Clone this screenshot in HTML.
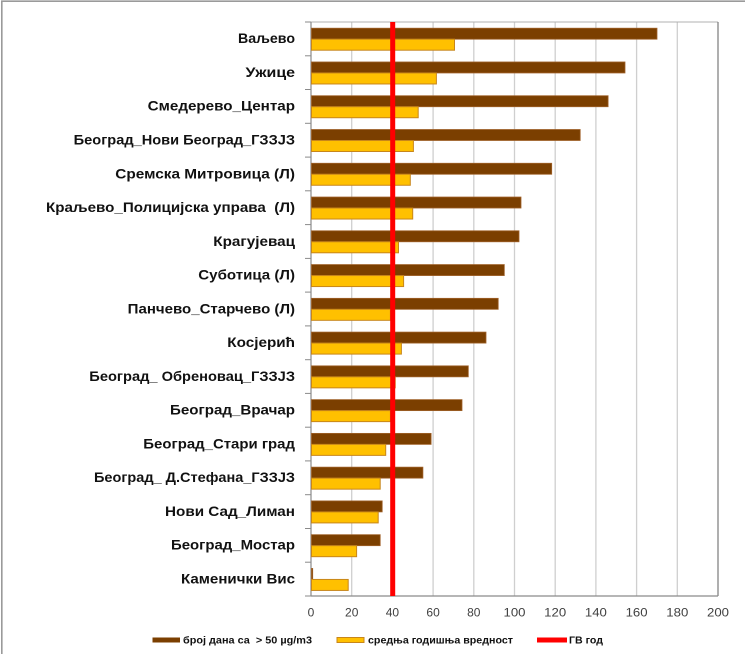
<!DOCTYPE html>
<html>
<head>
<meta charset="utf-8">
<style>
html,body{margin:0;padding:0;background:#fff;}
svg{display:block;}
</style>
</head>
<body>
<svg width="745" height="654" viewBox="0 0 745 654" xmlns="http://www.w3.org/2000/svg">
<rect x="0" y="0" width="745" height="654" fill="#fff"/>
<!-- outer frame -->
<path d="M1.8 660 L1.8 1.2 L760 1.2" fill="none" stroke="#9a9a9a" stroke-width="1.6"/>

<!-- gridlines -->
<g stroke="#cfcfcf" stroke-width="1.3">
<line x1="351.7" y1="22" x2="351.7" y2="596"/>
<line x1="392.4" y1="22" x2="392.4" y2="596"/>
<line x1="433.1" y1="22" x2="433.1" y2="596"/>
<line x1="473.8" y1="22" x2="473.8" y2="596"/>
<line x1="514.5" y1="22" x2="514.5" y2="596"/>
<line x1="555.2" y1="22" x2="555.2" y2="596"/>
<line x1="595.9" y1="22" x2="595.9" y2="596"/>
<line x1="636.6" y1="22" x2="636.6" y2="596"/>
<line x1="677.3" y1="22" x2="677.3" y2="596"/>
</g>
<!-- plot frame -->
<line x1="311" y1="22" x2="718" y2="22" stroke="#b0b0b0" stroke-width="1"/>
<line x1="718" y1="22" x2="718" y2="596" stroke="#7a7a7a" stroke-width="1.2"/>
<line x1="311" y1="596" x2="718" y2="596" stroke="#8a8a8a" stroke-width="1.2"/>
<line x1="311" y1="22" x2="311" y2="596" stroke="#8a8a8a" stroke-width="1.2"/>
<!-- left ticks -->
<g stroke="#8a8a8a" stroke-width="1">
<line x1="305" y1="22" x2="311" y2="22"/>
<line x1="305" y1="55.8" x2="311" y2="55.8"/>
<line x1="305" y1="89.5" x2="311" y2="89.5"/>
<line x1="305" y1="123.3" x2="311" y2="123.3"/>
<line x1="305" y1="157.1" x2="311" y2="157.1"/>
<line x1="305" y1="190.8" x2="311" y2="190.8"/>
<line x1="305" y1="224.6" x2="311" y2="224.6"/>
<line x1="305" y1="258.4" x2="311" y2="258.4"/>
<line x1="305" y1="292.1" x2="311" y2="292.1"/>
<line x1="305" y1="325.9" x2="311" y2="325.9"/>
<line x1="305" y1="359.7" x2="311" y2="359.7"/>
<line x1="305" y1="393.4" x2="311" y2="393.4"/>
<line x1="305" y1="427.2" x2="311" y2="427.2"/>
<line x1="305" y1="460.9" x2="311" y2="460.9"/>
<line x1="305" y1="494.7" x2="311" y2="494.7"/>
<line x1="305" y1="528.5" x2="311" y2="528.5"/>
<line x1="305" y1="562.2" x2="311" y2="562.2"/>
<line x1="305" y1="596" x2="311" y2="596"/>
</g>

<!-- brown bars -->
<g fill="#7b3f00" stroke="#a0622a" stroke-width="0.8">
<rect x="311.5" y="28.2" width="345.5" height="11"/>
<rect x="311.5" y="61.97" width="313.5" height="11"/>
<rect x="311.5" y="95.73" width="296.6" height="11"/>
<rect x="311.5" y="129.5" width="268.7" height="11"/>
<rect x="311.5" y="163.26" width="240.2" height="11"/>
<rect x="311.5" y="197.03" width="209.5" height="11"/>
<rect x="311.5" y="230.79" width="207.5" height="11"/>
<rect x="311.5" y="264.56" width="192.8" height="11"/>
<rect x="311.5" y="298.32" width="186.7" height="11"/>
<rect x="311.5" y="332.09" width="174.5" height="11"/>
<rect x="311.5" y="365.85" width="156.8" height="11"/>
<rect x="311.5" y="399.62" width="150.5" height="11"/>
<rect x="311.5" y="433.38" width="119.6" height="11"/>
<rect x="311.5" y="467.15" width="111.4" height="11"/>
<rect x="311.5" y="500.91" width="70.7" height="11"/>
<rect x="311.5" y="534.68" width="68.7" height="11"/>
<rect x="311.5" y="568.44" width="1.2" height="11"/>
</g>
<!-- yellow bars -->
<g fill="#ffc000" stroke="#c8861a" stroke-width="1">
<rect x="311.5" y="39.2" width="143" height="11"/>
<rect x="311.5" y="72.97" width="124.9" height="11"/>
<rect x="311.5" y="106.73" width="106.7" height="11"/>
<rect x="311.5" y="140.5" width="101.9" height="11"/>
<rect x="311.5" y="174.26" width="98.8" height="11"/>
<rect x="311.5" y="208.03" width="101.2" height="11"/>
<rect x="311.5" y="241.79" width="87" height="11"/>
<rect x="311.5" y="275.56" width="92.1" height="11"/>
<rect x="311.5" y="309.32" width="78.9" height="11"/>
<rect x="311.5" y="343.09" width="89.9" height="11"/>
<rect x="311.5" y="376.85" width="83.7" height="11"/>
<rect x="311.5" y="410.62" width="78.9" height="11"/>
<rect x="311.5" y="444.38" width="74.2" height="11"/>
<rect x="311.5" y="478.15" width="68.7" height="11"/>
<rect x="311.5" y="511.91" width="66.7" height="11"/>
<rect x="311.5" y="545.68" width="45.1" height="11"/>
<rect x="311.5" y="579.44" width="36.7" height="11"/>
</g>

<!-- red limit line -->
<rect x="390.2" y="22" width="5" height="574" fill="#ff0000"/>

<!-- category labels -->
<g font-family="Liberation Sans, sans-serif" font-weight="bold" font-size="14" fill="#111" text-anchor="end" lengthAdjust="spacingAndGlyphs">
<text x="295" y="43.2" textLength="57" lengthAdjust="spacingAndGlyphs">Ваљево</text>
<text x="295" y="76.97" textLength="49.5" lengthAdjust="spacingAndGlyphs">Ужице</text>
<text x="295" y="110.73" textLength="147.3" lengthAdjust="spacingAndGlyphs">Смедерево_Центар</text>
<text x="295" y="144.5" textLength="221.3" lengthAdjust="spacingAndGlyphs">Београд_Нови Београд_ГЗЗЈЗ</text>
<text x="295" y="178.26" textLength="179.7" lengthAdjust="spacingAndGlyphs">Сремска Митровица (Л)</text>
<text x="295" y="212.03" textLength="249" lengthAdjust="spacingAndGlyphs" xml:space="preserve">Краљево_Полицијска управа  (Л)</text>
<text x="295" y="245.79" textLength="81.7" lengthAdjust="spacingAndGlyphs">Крагујевац</text>
<text x="295" y="279.56" textLength="96.7" lengthAdjust="spacingAndGlyphs">Суботица (Л)</text>
<text x="295" y="313.32" textLength="167.3" lengthAdjust="spacingAndGlyphs">Панчево_Старчево (Л)</text>
<text x="295" y="347.09" textLength="67.7" lengthAdjust="spacingAndGlyphs">Косјерић</text>
<text x="295" y="380.85" textLength="205.7" lengthAdjust="spacingAndGlyphs">Београд_ Обреновац_ГЗЗЈЗ</text>
<text x="295" y="414.62" textLength="125" lengthAdjust="spacingAndGlyphs">Београд_Врачар</text>
<text x="295" y="448.38" textLength="151.7" lengthAdjust="spacingAndGlyphs">Београд_Стари град</text>
<text x="295" y="482.15" textLength="201" lengthAdjust="spacingAndGlyphs">Београд_ Д.Стефана_ГЗЗЈЗ</text>
<text x="295" y="515.91" textLength="130" lengthAdjust="spacingAndGlyphs">Нови Сад_Лиман</text>
<text x="295" y="549.68" textLength="124" lengthAdjust="spacingAndGlyphs">Београд_Мостар</text>
<text x="295" y="583.44" textLength="114" lengthAdjust="spacingAndGlyphs">Каменички Вис</text>
</g>

<!-- x tick labels -->
<g font-family="Liberation Sans, sans-serif" font-size="12" fill="#404040" text-anchor="middle">
<text x="311" y="616.5">0</text>
<text x="351.7" y="616.5">20</text>
<text x="392.4" y="616.5">40</text>
<text x="433.1" y="616.5">60</text>
<text x="473.8" y="616.5">80</text>
<text x="514.5" y="616.5" textLength="22" lengthAdjust="spacingAndGlyphs">100</text>
<text x="555.2" y="616.5" textLength="22" lengthAdjust="spacingAndGlyphs">120</text>
<text x="595.9" y="616.5" textLength="22" lengthAdjust="spacingAndGlyphs">140</text>
<text x="636.6" y="616.5" textLength="22" lengthAdjust="spacingAndGlyphs">160</text>
<text x="677.3" y="616.5" textLength="22" lengthAdjust="spacingAndGlyphs">180</text>
<text x="718" y="616.5" textLength="22" lengthAdjust="spacingAndGlyphs">200</text>
</g>

<!-- legend -->
<rect x="152.5" y="637.5" width="27.5" height="5" fill="#7b3f00"/>
<rect x="337" y="637.5" width="27" height="5" fill="#ffc000" stroke="#c8861a" stroke-width="1"/>
<rect x="537" y="637.5" width="30" height="5" fill="#ff0000"/>
<g font-family="Liberation Sans, sans-serif" font-weight="bold" font-size="10" fill="#111">
<text x="183" y="643.5" textLength="129" lengthAdjust="spacingAndGlyphs" xml:space="preserve">број дана са  &gt; 50 µg/m3</text>
<text x="368" y="643.5" textLength="145" lengthAdjust="spacingAndGlyphs">средња годишња вредност</text>
<text x="569" y="643.5" textLength="34" lengthAdjust="spacingAndGlyphs">ГВ год</text>
</g>
</svg>
</body>
</html>
